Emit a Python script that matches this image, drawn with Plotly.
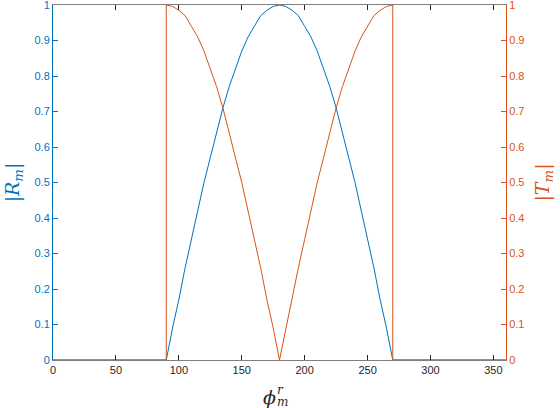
import plotly.graph_objects as go

# phase of the reflection coefficient (deg)
phi = [0, 90, 90, 95, 100, 105, 110, 115, 120, 125, 130, 135, 140, 145, 150, 155,
       160, 165, 170, 175, 180, 185, 190, 195, 200, 205, 210, 215, 220, 225, 230,
       235, 240, 245, 250, 255, 260, 265, 270, 270, 360]
R_mag = [0, 0, 0, 0.09, 0.17, 0.26, 0.34, 0.42, 0.50, 0.57, 0.64, 0.71, 0.77, 0.82,
         0.87, 0.91, 0.94, 0.97, 0.985, 0.996, 1.0, 0.996, 0.985, 0.97, 0.94, 0.91,
         0.87, 0.82, 0.77, 0.71, 0.64, 0.57, 0.50, 0.42, 0.34, 0.26, 0.17, 0.09, 0, 0, 0]
T_mag = [0, 0, 1, 0.996, 0.985, 0.97, 0.94, 0.91, 0.87, 0.82, 0.77, 0.71, 0.64, 0.57,
         0.50, 0.42, 0.34, 0.26, 0.17, 0.09, 0, 0.09, 0.17, 0.26, 0.34, 0.42, 0.50,
         0.57, 0.64, 0.71, 0.77, 0.82, 0.87, 0.91, 0.94, 0.97, 0.985, 0.996, 1, 0, 0]

x_ticks = [0, 50, 100, 150, 200, 250, 300, 350]
y_ticks = [0, 0.1, 0.2, 0.3, 0.4, 0.5, 0.6, 0.7, 0.8, 0.9, 1]
y_labels = ['0', '0.1', '0.2', '0.3', '0.4', '0.5', '0.6', '0.7', '0.8', '0.9', '1']

BLUE = '#0072BD'
ORANGE = '#D95319'
GRAY = '#262626'
TICKFONT = 'Liberation Sans'
MATHFONT = 'DejaVu Serif'

fig = go.Figure()
fig.add_trace(go.Scatter(x=phi, y=R_mag, mode='lines', line=dict(color=BLUE, width=1), yaxis='y'))
fig.add_trace(go.Scatter(x=phi, y=T_mag, mode='lines', line=dict(color=ORANGE, width=1), yaxis='y2'))

fig.update_layout(
    width=560, height=408,
    margin=dict(l=53, r=54, t=5, b=48),
    paper_bgcolor='white', plot_bgcolor='white',
    showlegend=False,
    xaxis=dict(
        range=[0, 360], tickvals=x_ticks, ticks='inside', ticklen=5, tickcolor=GRAY,
        showline=True, linecolor='#7f7f7f', linewidth=1, mirror='ticks',
        showgrid=False, zeroline=False, automargin=False,
        tickfont=dict(family=TICKFONT, size=11, color=GRAY),
    ),
    yaxis=dict(
        range=[0, 1], tickvals=y_ticks, ticktext=y_labels, ticks='inside', ticklen=5,
        tickcolor=BLUE, showline=True, linecolor=BLUE, linewidth=1,
        showgrid=False, zeroline=False, automargin=False, ticklabeloverflow='allow',
        tickfont=dict(family=TICKFONT, size=11, color=BLUE),
        title=dict(text='|<i>R</i><sub><i>m</i></sub>|', standoff=9,
                   font=dict(family=MATHFONT, size=19, color=BLUE)),
    ),
    yaxis2=dict(
        range=[0, 1], tickvals=y_ticks, ticktext=y_labels, ticks='inside', ticklen=5,
        tickcolor=ORANGE, showline=True, linecolor=ORANGE, linewidth=1,
        overlaying='y', side='right', showgrid=False, zeroline=False, automargin=False,
        ticklabeloverflow='allow',
        tickfont=dict(family=TICKFONT, size=11, color=ORANGE),
        title=dict(text='|<i>T</i><sub><i>m</i></sub>|', standoff=12,
                   font=dict(family=MATHFONT, size=19, color=ORANGE)),
    ),
)

# x label: phi with stacked super/subscript
fig.add_annotation(text='<i>ϕ</i>', xref='paper', yref='paper', x=0.5, y=0,
                   yshift=-24, xshift=-10, showarrow=False, xanchor='center', yanchor='top',
                   font=dict(family=MATHFONT, size=19, color=GRAY))
fig.add_annotation(text='<i>r</i>', xref='paper', yref='paper', x=0.5, y=0,
                   yshift=-21, xshift=-5, showarrow=False, xanchor='left', yanchor='top',
                   font=dict(family=MATHFONT, size=12, color=GRAY))
fig.add_annotation(text='<i>m</i>', xref='paper', yref='paper', x=0.5, y=0,
                   yshift=-33, xshift=-5, showarrow=False, xanchor='left', yanchor='top',
                   font=dict(family=MATHFONT, size=12, color=GRAY))

fig.write_html('out.html', config={'displayModeBar': False},
               post_script="document.body.style.margin='0';")
